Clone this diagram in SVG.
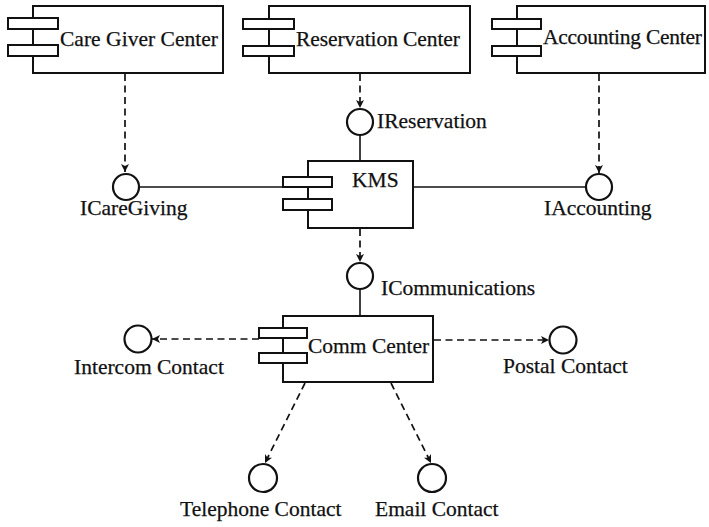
<svg xmlns="http://www.w3.org/2000/svg" width="709" height="527" viewBox="0 0 709 527">
  <style>
    .box { fill: #fff; stroke: #111; stroke-width: 2; }
    .tab { fill: #fff; stroke: #111; stroke-width: 2; }
    .iface { fill: #fff; stroke: #111; stroke-width: 2.2; }
    .solid { fill: none; stroke: #111; stroke-width: 1.6; }
    .dep { fill: none; stroke: #111; stroke-width: 1.7; stroke-dasharray: 7 4.5; marker-end: url(#arrow); }
    text { font-family: "Liberation Serif", "Times New Roman", serif; font-size: 21.5px; fill: #111; stroke: #111; stroke-width: 0.25; }
  </style>
  <defs>
    <marker id="arrow" viewBox="0 0 10 10" refX="10" refY="5" markerWidth="10" markerHeight="8" markerUnits="userSpaceOnUse" orient="auto">
      <path d="M0,0 L10,5 L0,10 L2.5,5 Z" fill="#111"/>
    </marker>
  </defs>

  <rect width="709" height="527" fill="#fff"/>

  <!-- connectors -->
  <g id="connectors">
    <line class="dep" x1="125" y1="74" x2="125" y2="172"/>
    <line class="dep" x1="360" y1="74" x2="360" y2="108"/>
    <line class="dep" x1="599" y1="74" x2="599" y2="173"/>
    <line class="solid" x1="360" y1="135" x2="360" y2="161"/>
    <line class="solid" x1="139" y1="187" x2="283" y2="187"/>
    <line class="solid" x1="413" y1="187" x2="586" y2="187"/>
    <line class="dep" x1="360" y1="229" x2="360" y2="262"/>
    <line class="solid" x1="360" y1="289" x2="360" y2="316"/>
    <line class="dep" x1="259" y1="339" x2="152" y2="339"/>
    <line class="dep" x1="434" y1="340" x2="549" y2="340"/>
    <line class="dep" x1="305" y1="383" x2="265" y2="463"/>
    <line class="dep" x1="391" y1="383" x2="431" y2="463"/>
  </g>

  <!-- components -->
  <g id="care-giver-center">
    <rect class="box" x="33" y="6" width="190" height="67"/>
    <rect class="tab" x="8" y="18" width="50" height="11"/>
    <rect class="tab" x="8" y="45" width="50" height="11"/>
    <text x="60" y="46" textLength="158">Care Giver Center</text>
  </g>
  <g id="reservation-center">
    <rect class="box" x="269" y="6" width="201" height="67"/>
    <rect class="tab" x="243" y="19" width="51" height="10"/>
    <rect class="tab" x="243" y="46" width="51" height="10"/>
    <text x="296" y="46" textLength="164">Reservation Center</text>
  </g>
  <g id="accounting-center">
    <rect class="box" x="517" y="6" width="188" height="67"/>
    <rect class="tab" x="492" y="19" width="49" height="10"/>
    <rect class="tab" x="492" y="46" width="49" height="10"/>
    <text x="543" y="44" textLength="159">Accounting Center</text>
  </g>
  <g id="kms">
    <rect class="box" x="308" y="161" width="105" height="67"/>
    <rect class="tab" x="283" y="177" width="49" height="10"/>
    <rect class="tab" x="283" y="199" width="49" height="11"/>
    <text x="352" y="187">KMS</text>
  </g>
  <g id="comm-center">
    <rect class="box" x="283" y="316" width="150" height="66"/>
    <rect class="tab" x="259" y="328" width="48" height="10"/>
    <rect class="tab" x="259" y="353" width="48" height="10"/>
    <text x="308" y="353">Comm Center</text>
  </g>

  <!-- interfaces -->
  <g id="ireservation">
    <circle class="iface" cx="360" cy="122" r="13"/>
    <text x="377" y="128">IReservation</text>
  </g>
  <g id="icaregiving">
    <circle class="iface" cx="126" cy="187" r="13"/>
    <text x="80" y="215">ICareGiving</text>
  </g>
  <g id="iaccounting">
    <circle class="iface" cx="599" cy="187" r="13"/>
    <text x="544" y="215">IAccounting</text>
  </g>
  <g id="icommunications">
    <circle class="iface" cx="360" cy="276" r="13"/>
    <text x="381" y="295">ICommunications</text>
  </g>
  <g id="intercom-contact">
    <circle class="iface" cx="138" cy="339" r="13.5"/>
    <text x="74" y="374">Intercom Contact</text>
  </g>
  <g id="postal-contact">
    <circle class="iface" cx="563" cy="340" r="13.5"/>
    <text x="503" y="373">Postal Contact</text>
  </g>
  <g id="telephone-contact">
    <circle class="iface" cx="263" cy="478" r="14"/>
    <text x="180" y="516">Telephone Contact</text>
  </g>
  <g id="email-contact">
    <circle class="iface" cx="432" cy="478" r="14"/>
    <text x="375" y="516">Email Contact</text>
  </g>
</svg>
